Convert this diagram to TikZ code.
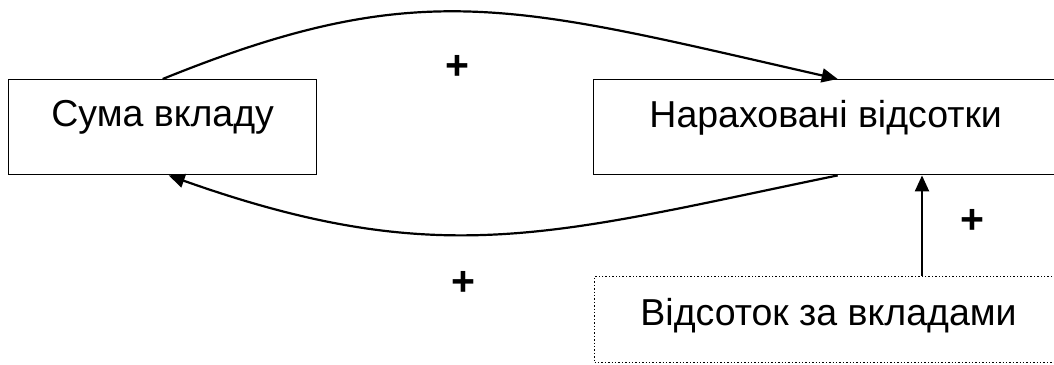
\documentclass[tikz,border=0pt]{standalone}
\usepackage{fontspec}
\setmainfont{Liberation Sans}
\usetikzlibrary{arrows.meta}
\begin{document}
\begin{tikzpicture}[x=1pt,y=-1pt,
  every node/.style={font=\fontsize{37.5}{45}\selectfont},
  block/.style={draw, line width=1.4pt, rectangle, inner sep=0pt, anchor=north west},
  link/.style={line width=2.2pt, -{Triangle[length=16pt,width=14pt]}},
  sign/.style={font=\fontsize{41}{48}\selectfont\bfseries, inner sep=0pt}]
  \useasboundingbox (0,0) rectangle (1054,364);
  \clip (0,0) rectangle (1054,364);

  % boxes
  \node[block, minimum width=308pt, text height=47pt, text depth=48pt] (sum) at (8,79) {Сума вкладу};
  \node[block, minimum width=464pt, text height=48pt, text depth=47pt] (pct) at (593,79) {Нараховані відсотки};
  \node[block, dotted, line width=1.1pt, minimum width=468pt, text height=49pt, text depth=37pt] (dep) at (594,276) {Відсоток за вкладами};

  % feedback loop
  \draw[link] (sum.north) .. controls (421.6,-26) and (515,5.7) .. ([xshift=12pt]pct.north);
  \draw[link] ([xshift=12pt]pct.south) .. controls (553,234) and (441,272) .. ([xshift=6pt]sum.south);

  % inflow from the rate
  \coordinate (col) at (922,0);
  \draw[link] (col |- dep.north) -- (col |- pct.south);

  % polarity signs
  \node[sign] (s1) at (457,67) {+};
  \node[sign] (s2) at (463,283) {+};
  \node[sign] (s3) at (972,221) {+};
\end{tikzpicture}
\end{document}
